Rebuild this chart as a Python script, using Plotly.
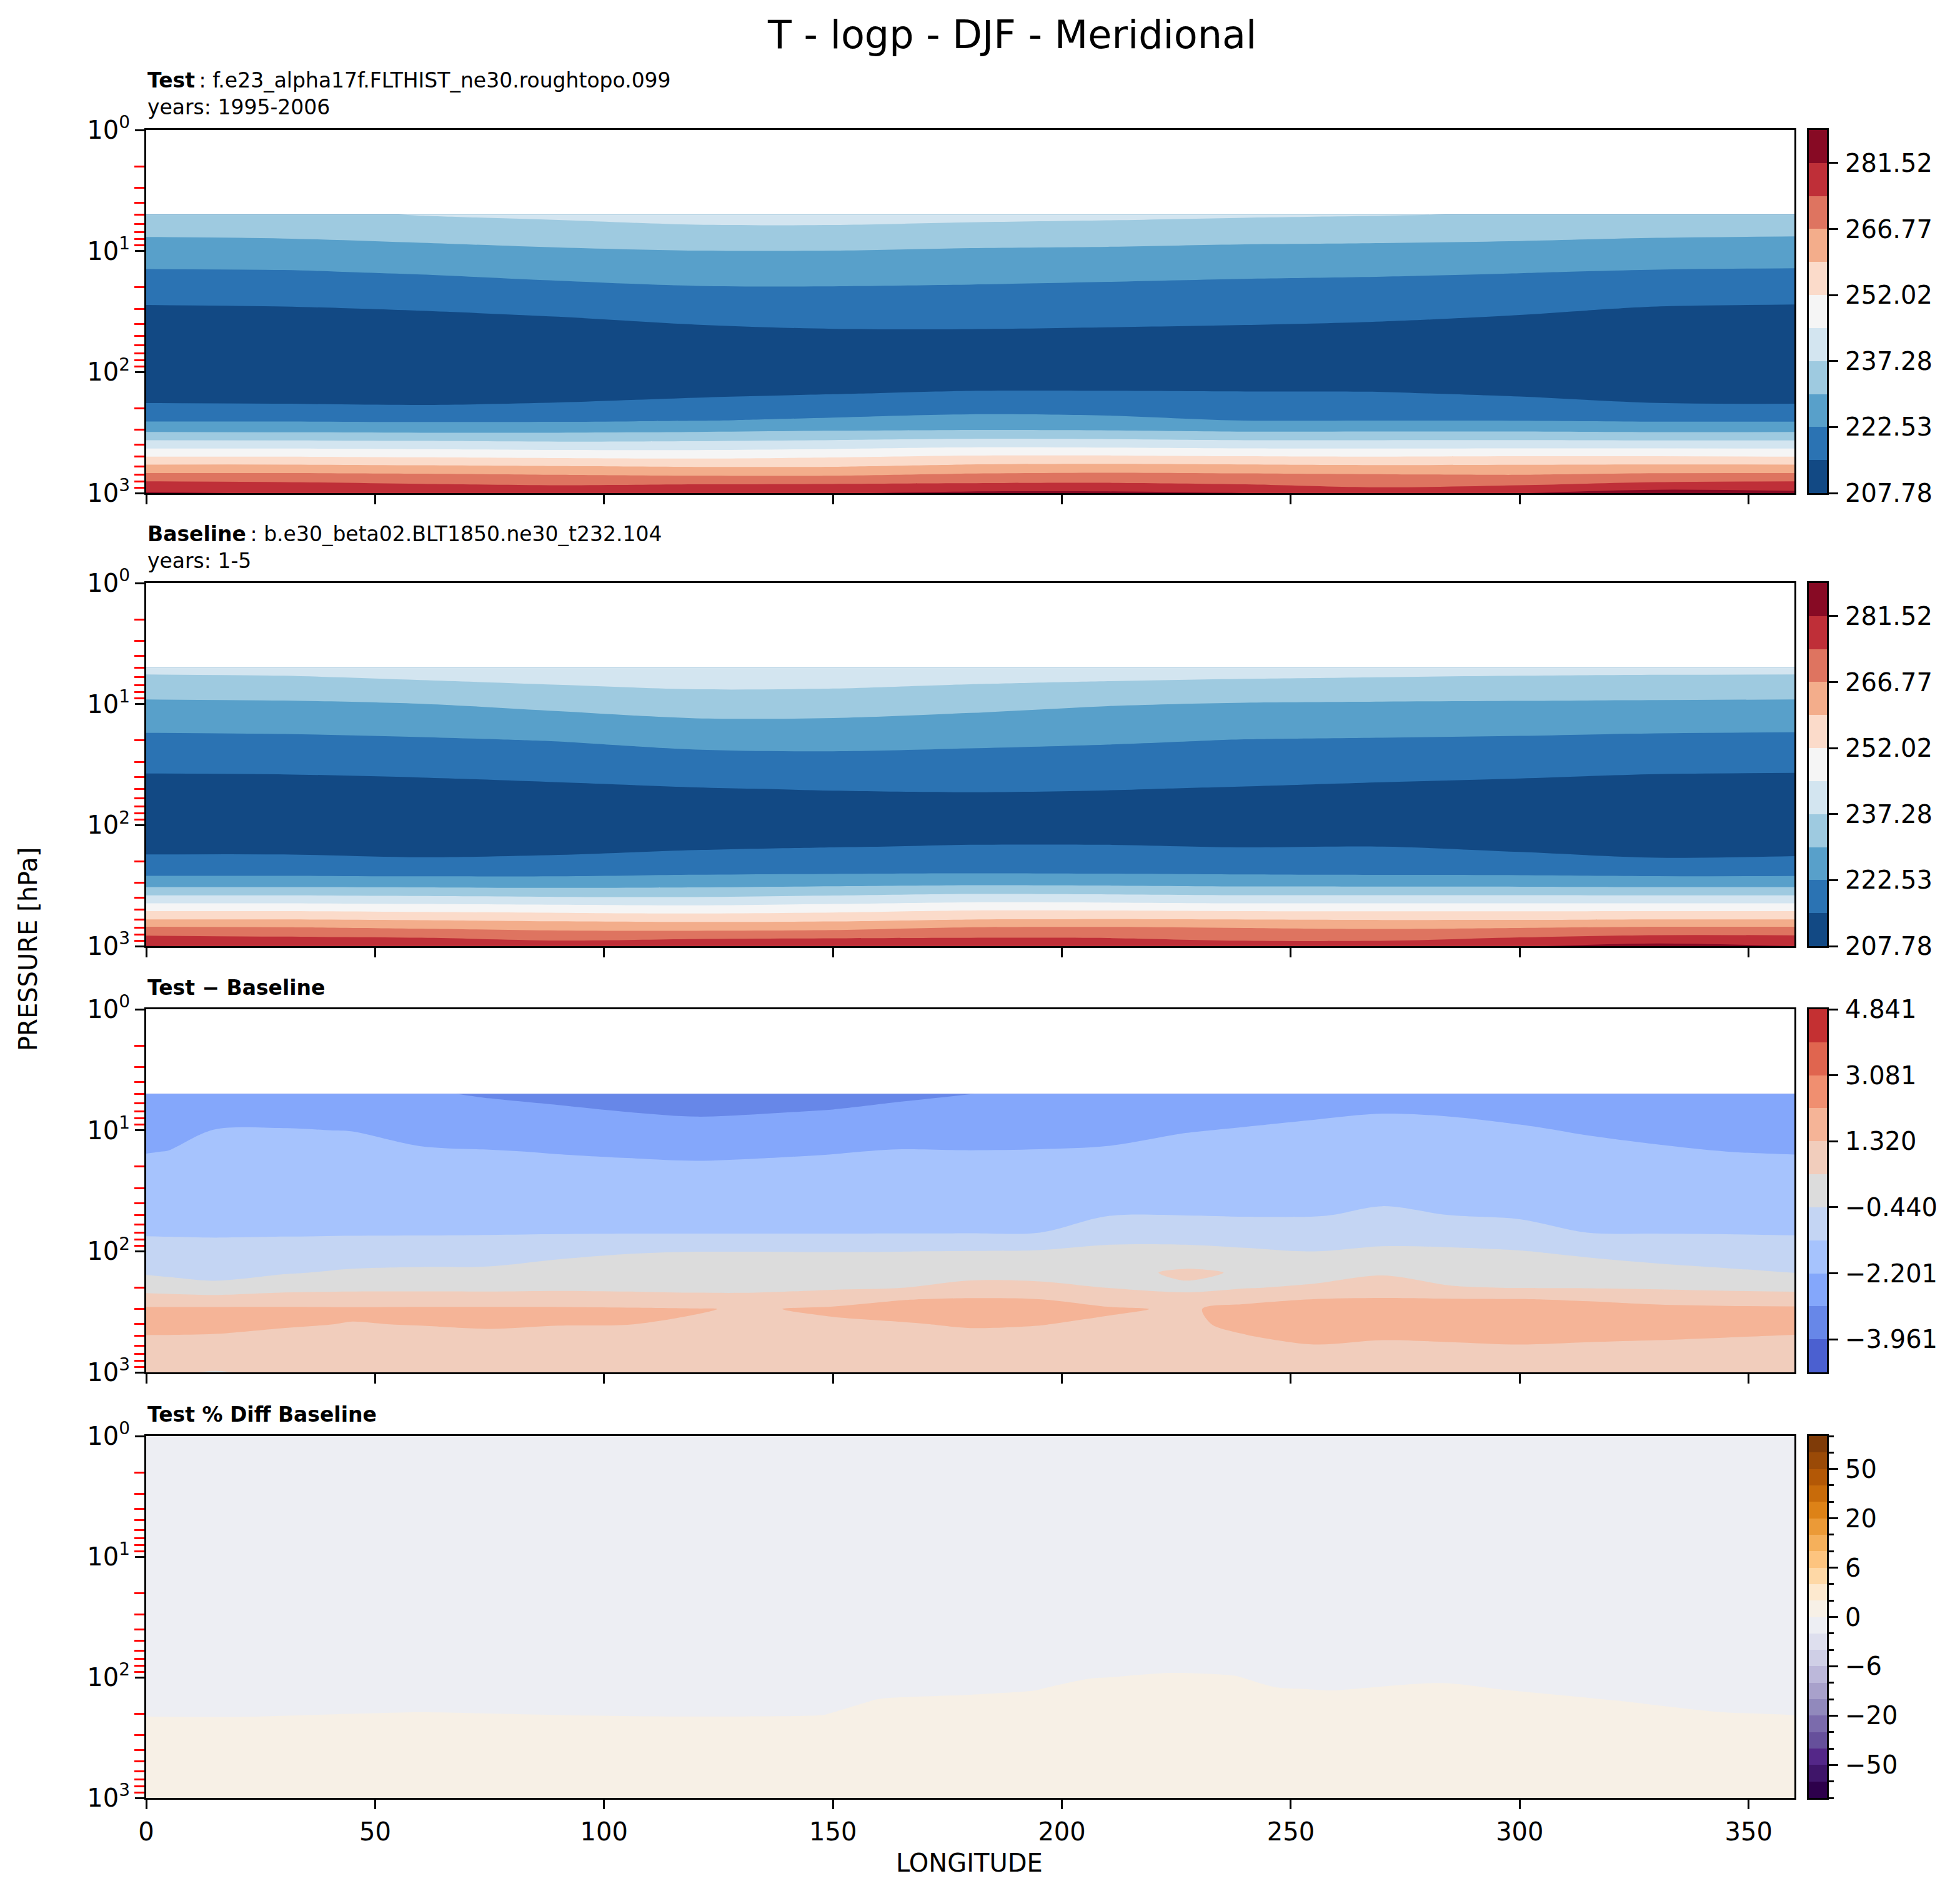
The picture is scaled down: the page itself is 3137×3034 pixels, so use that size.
import numpy as np
import plotly.graph_objects as go

FONT = "DejaVu Sans"
PAGE_W, PAGE_H = 3137, 3034
BODY = 8                                   # default body margin of the page
W, H = PAGE_W - 2 * BODY, PAGE_H - 2 * BODY

# ---------------- data ----------------
lon_T = [0, 30, 60, 90, 120, 150, 180, 210, 240, 270, 300, 330, 360]
plev_T = [5, 7, 10, 15, 20, 30, 50, 70, 100, 150, 200, 250, 300, 400, 500, 600, 700, 800, 900, 1000]

# one list per longitude (top -> bottom), temperature in K
test_T = [
    [235.1, 231.0, 226.6, 221.8, 218.7, 214.4, 210.0, 207.5, 206.5, 211.5, 217.2, 221.7, 228.0, 241.3, 252.0, 260.9, 267.8, 274.2, 278.3, 282.3],
    [235.6, 231.4, 226.9, 222.0, 219.0, 214.7, 210.2, 207.6, 206.4, 211.1, 217.0, 221.7, 227.7, 241.3, 252.0, 260.9, 267.8, 273.7, 277.6, 281.0],
    [237.6, 232.6, 227.8, 223.0, 219.8, 215.5, 211.0, 208.0, 206.5, 210.4, 216.6, 221.4, 227.3, 240.8, 251.4, 260.3, 267.3, 272.4, 276.8, 280.5],
    [238.8, 233.8, 229.0, 224.3, 221.1, 216.7, 211.5, 208.5, 206.8, 211.9, 217.3, 221.5, 227.5, 240.0, 250.7, 259.6, 266.4, 271.3, 275.8, 280.5],
    [240.2, 235.1, 229.8, 225.3, 222.2, 218.1, 213.1, 210.5, 208.0, 213.8, 218.5, 222.2, 228.2, 240.2, 250.3, 258.8, 265.5, 271.7, 276.7, 280.8],
    [240.4, 235.1, 229.8, 225.4, 222.3, 218.6, 214.0, 211.0, 209.0, 214.9, 219.5, 223.4, 229.1, 241.1, 251.4, 258.9, 265.5, 272.0, 277.0, 281.0],
    [239.6, 234.3, 229.1, 224.8, 222.0, 218.5, 214.1, 211.5, 209.5, 215.9, 220.3, 224.8, 229.7, 242.4, 253.0, 260.8, 267.4, 272.5, 278.0, 283.0],
    [239.0, 233.7, 228.8, 224.3, 221.5, 218.2, 213.8, 211.5, 209.8, 215.9, 220.1, 224.1, 229.4, 242.1, 253.1, 261.4, 268.1, 272.9, 278.1, 283.0],
    [238.2, 233.0, 228.2, 223.7, 221.0, 217.7, 213.5, 211.0, 209.5, 215.7, 219.4, 222.3, 228.3, 241.3, 252.4, 260.9, 267.5, 271.9, 276.5, 281.5],
    [237.6, 232.6, 227.9, 223.3, 220.6, 217.1, 213.0, 210.5, 209.0, 215.6, 219.4, 222.3, 228.4, 241.3, 252.0, 260.4, 266.8, 270.8, 274.3, 279.5],
    [236.9, 232.0, 227.5, 222.7, 219.9, 216.1, 212.0, 209.5, 208.0, 214.2, 218.7, 222.2, 228.4, 241.4, 252.4, 260.6, 266.4, 271.3, 275.8, 281.3],
    [235.7, 231.2, 226.8, 221.9, 218.9, 214.7, 210.2, 207.6, 206.4, 211.6, 217.2, 221.6, 227.8, 241.3, 252.4, 260.9, 267.7, 273.4, 279.4, 284.8],
    [235.1, 230.9, 226.4, 221.6, 218.6, 214.3, 210.0, 207.5, 206.4, 211.1, 217.0, 221.6, 227.9, 241.3, 252.0, 260.9, 267.8, 274.2, 278.9, 283.2],
]

base_T = [
    [239.4, 233.9, 228.6, 224.0, 221.0, 217.2, 212.5, 209.8, 208.0, 212.6, 217.4, 221.2, 226.2, 239.6, 250.7, 259.2, 267.4, 273.2, 277.8, 281.8],
    [239.8, 234.3, 228.9, 224.3, 221.2, 217.4, 212.6, 209.9, 208.0, 212.6, 217.4, 221.2, 226.2, 239.6, 250.7, 259.2, 267.0, 272.6, 276.9, 280.5],
    [241.2, 235.6, 229.8, 225.0, 221.8, 217.9, 213.2, 210.5, 208.2, 211.2, 216.7, 220.9, 226.0, 239.0, 250.0, 258.6, 265.7, 271.6, 276.3, 280.0],
    [242.3, 237.1, 231.7, 226.3, 222.7, 218.8, 214.0, 211.0, 208.8, 212.4, 217.3, 221.1, 225.7, 238.2, 249.3, 257.7, 264.4, 269.7, 274.2, 279.8],
    [242.8, 238.3, 233.5, 228.1, 224.4, 220.0, 214.9, 212.0, 210.0, 214.1, 218.4, 221.8, 226.4, 238.0, 248.5, 257.3, 263.9, 269.8, 275.5, 280.5],
    [242.6, 238.1, 233.3, 228.1, 224.7, 220.4, 215.5, 212.5, 210.5, 214.9, 219.0, 222.2, 227.2, 239.2, 249.8, 257.5, 264.4, 270.7, 276.1, 280.5],
    [241.9, 237.0, 231.9, 227.1, 223.9, 220.2, 215.7, 213.0, 211.0, 215.5, 219.5, 222.5, 227.9, 240.6, 251.4, 259.2, 266.9, 271.6, 276.2, 281.0],
    [241.5, 236.0, 230.3, 226.1, 223.2, 219.7, 215.4, 212.8, 211.0, 215.5, 219.4, 222.3, 227.6, 240.3, 251.3, 259.6, 267.2, 271.5, 276.0, 281.2],
    [240.9, 235.2, 229.5, 225.3, 222.3, 219.1, 214.8, 212.3, 210.5, 214.9, 218.8, 221.9, 226.9, 239.6, 250.7, 259.2, 266.4, 270.4, 273.9, 280.5],
    [240.3, 234.7, 229.2, 224.9, 222.0, 218.5, 214.1, 211.7, 210.0, 215.1, 218.8, 221.7, 226.7, 239.6, 250.7, 258.8, 265.8, 270.2, 273.9, 279.0],
    [239.8, 234.3, 229.0, 224.6, 221.6, 218.0, 213.4, 211.0, 209.0, 213.5, 218.0, 221.5, 226.6, 239.6, 250.7, 258.8, 266.3, 271.8, 276.6, 281.0],
    [239.5, 234.0, 228.8, 224.1, 221.1, 217.3, 212.6, 209.9, 208.0, 210.9, 216.6, 220.9, 226.2, 239.6, 250.7, 259.2, 267.4, 273.5, 279.0, 283.8],
    [239.4, 233.9, 228.6, 223.9, 220.9, 217.1, 212.4, 209.8, 208.0, 211.8, 217.0, 221.1, 226.2, 239.6, 250.7, 259.2, 267.4, 273.5, 277.8, 281.5],
]

lon_diff = [0, 5, 15, 30, 45, 60, 75, 90, 105, 120, 133, 150, 165, 180, 195, 210,
            227, 240, 255, 270, 285, 300, 315, 330, 345, 360]
plev_diff = [5, 7, 10, 15, 20, 30, 50, 70, 100, 150, 200, 250, 300, 400, 500, 600, 700, 850, 1000]

# Test - Baseline (K), one list per longitude (top -> bottom)
diff_T = [
    [-2.70, -2.55, -2.40, -2.22, -2.07, -1.85, -1.57, -1.39, -1.03, -0.53, 0.10, 0.84, 1.45, 1.55, 1.30, 1.10, 1.00, 0.90, 0.85],
    [-2.65, -2.51, -2.36, -2.19, -2.04, -1.83, -1.57, -1.39, -1.08, -0.62, -0.01, 0.84, 1.45, 1.55, 1.30, 1.10, 1.00, 0.90, 0.60],
    [-2.55, -2.37, -2.19, -2.03, -1.91, -1.74, -1.53, -1.39, -1.13, -0.70, -0.22, 0.84, 1.45, 1.52, 1.28, 1.10, 1.00, 0.85, 0.35],
    [-2.54, -2.36, -2.18, -2.02, -1.90, -1.74, -1.53, -1.39, -1.07, -0.51, 0.14, 0.87, 1.45, 1.38, 1.20, 1.10, 1.00, 0.90, 0.70],
    [-2.57, -2.39, -2.21, -2.03, -1.91, -1.74, -1.53, -1.39, -0.99, -0.32, 0.22, 0.89, 1.42, 1.30, 1.15, 1.05, 1.00, 0.90, 0.50],
    [-3.00, -2.72, -2.41, -2.13, -1.99, -1.79, -1.55, -1.39, -0.95, -0.26, 0.23, 0.89, 1.45, 1.34, 1.18, 1.05, 1.00, 0.90, 0.80],
    [-3.16, -2.85, -2.52, -2.17, -2.02, -1.82, -1.56, -1.38, -0.92, -0.24, 0.23, 0.88, 1.45, 1.40, 1.20, 1.05, 1.00, 0.92, 0.85],
    [-3.29, -2.96, -2.62, -2.23, -2.06, -1.84, -1.56, -1.38, -0.67, -0.06, 0.29, 0.85, 1.45, 1.34, 1.18, 1.05, 1.00, 0.95, 0.90],
    [-3.44, -3.09, -2.71, -2.29, -2.08, -1.85, -1.56, -1.37, -0.50, -0.03, 0.28, 0.77, 1.42, 1.33, 1.15, 1.05, 1.00, 0.95, 0.90],
    [-3.56, -3.19, -2.79, -2.34, -2.11, -1.87, -1.56, -1.37, -0.45, -0.02, 0.27, 0.67, 1.36, 1.25, 1.12, 1.05, 1.00, 0.95, 0.90],
    [-3.50, -3.14, -2.75, -2.30, -2.09, -1.86, -1.57, -1.37, -0.45, -0.02, 0.28, 0.66, 1.25, 1.20, 1.10, 1.05, 1.00, 0.95, 0.90],
    [-3.39, -3.04, -2.66, -2.23, -2.06, -1.83, -1.55, -1.37, -0.46, 0.01, 0.33, 0.96, 1.45, 1.20, 1.10, 1.05, 1.00, 0.95, 0.90],
    [-3.23, -2.89, -2.53, -2.16, -2.01, -1.80, -1.54, -1.36, -0.45, 0.07, 0.43, 1.30, 1.55, 1.28, 1.15, 1.05, 1.00, 0.95, 0.90],
    [-3.09, -2.81, -2.51, -2.18, -2.03, -1.81, -1.54, -1.36, -0.42, 0.15, 0.71, 1.40, 1.60, 1.38, 1.20, 1.05, 1.00, 0.95, 0.90],
    [-2.95, -2.71, -2.45, -2.17, -2.01, -1.79, -1.51, -1.33, -0.38, 0.15, 0.65, 1.34, 1.58, 1.34, 1.18, 1.05, 1.00, 0.95, 0.90],
    [-2.85, -2.63, -2.40, -2.13, -1.95, -1.69, -1.36, -0.78, -0.26, 0.14, 0.43, 1.07, 1.40, 1.22, 1.10, 1.05, 1.00, 0.95, 0.90],
    [-2.68, -2.46, -2.23, -2.00, -1.84, -1.62, -1.34, -0.70, -0.30, 0.60, 0.30, 0.66, 1.25, 1.22, 1.12, 1.05, 1.00, 0.95, 0.90],
    [-2.60, -2.38, -2.16, -1.96, -1.82, -1.62, -1.37, -0.89, -0.34, 0.35, 0.40, 1.15, 1.50, 1.45, 1.30, 1.15, 1.00, 0.95, 0.90],
    [-2.50, -2.28, -2.10, -1.91, -1.78, -1.59, -1.36, -0.95, -0.45, 0.10, 0.56, 1.34, 1.60, 1.62, 1.50, 1.30, 1.15, 1.00, 0.90],
    [-2.44, -2.22, -2.05, -1.85, -1.72, -1.53, -1.22, -0.79, -0.31, 0.33, 0.90, 1.38, 1.60, 1.60, 1.40, 1.22, 1.10, 1.00, 0.90],
    [-2.47, -2.25, -2.07, -1.89, -1.76, -1.57, -1.33, -0.85, -0.33, 0.13, 0.49, 1.38, 1.60, 1.62, 1.45, 1.25, 1.10, 1.00, 0.90],
    [-2.56, -2.34, -2.14, -1.95, -1.82, -1.64, -1.41, -1.05, -0.41, 0.07, 0.42, 1.35, 1.60, 1.62, 1.50, 1.30, 1.15, 1.00, 0.90],
    [-2.64, -2.45, -2.25, -2.05, -1.92, -1.73, -1.48, -1.33, -0.62, 0.00, 0.40, 1.26, 1.58, 1.60, 1.45, 1.25, 1.10, 1.00, 0.90],
    [-2.70, -2.53, -2.34, -2.13, -1.99, -1.78, -1.52, -1.35, -0.82, -0.15, 0.33, 1.12, 1.50, 1.55, 1.40, 1.22, 1.10, 1.00, 0.90],
    [-2.73, -2.57, -2.40, -2.20, -2.05, -1.83, -1.55, -1.36, -0.92, -0.31, 0.24, 1.00, 1.48, 1.52, 1.35, 1.18, 1.05, 0.95, 0.90],
    [-2.71, -2.56, -2.40, -2.23, -2.08, -1.85, -1.57, -1.38, -0.98, -0.45, 0.19, 0.94, 1.47, 1.52, 1.30, 1.12, 1.02, 0.92, 0.85],
]

lon_pct = [0, 20, 60, 90, 120, 148, 160, 180, 194, 206, 224, 238, 247, 259, 283, 298, 321, 344, 360]
plev_pct = [1, 50, 80, 100, 125, 160, 200, 250, 400, 1000]

# Test % Diff Baseline, one list per longitude (top -> bottom)
pct_T = [
    [-1.86, -0.50, -0.33, -0.26, -0.18, -0.09, -0.02, 0.06, 0.23, 0.54],
    [-1.86, -0.50, -0.34, -0.26, -0.19, -0.10, -0.02, 0.05, 0.22, 0.54],
    [-1.84, -0.48, -0.32, -0.24, -0.16, -0.08, 0.01, 0.08, 0.24, 0.56],
    [-1.85, -0.49, -0.32, -0.25, -0.17, -0.08, -0.01, 0.07, 0.24, 0.55],
    [-1.86, -0.50, -0.34, -0.26, -0.18, -0.10, -0.02, 0.06, 0.22, 0.54],
    [-1.84, -0.48, -0.32, -0.24, -0.17, -0.08, -0.01, 0.08, 0.24, 0.56],
    [-1.74, -0.39, -0.22, -0.14, -0.07, 0.02, 0.10, 0.17, 0.34, 0.66],
    [-1.72, -0.36, -0.19, -0.12, -0.04, 0.05, 0.13, 0.20, 0.37, 0.68],
    [-1.69, -0.33, -0.17, -0.09, -0.01, 0.07, 0.15, 0.23, 0.39, 0.71],
    [-1.61, -0.25, -0.09, -0.01, 0.07, 0.16, 0.23, 0.31, 0.47, 0.79],
    [-1.57, -0.21, -0.05, 0.03, 0.11, 0.20, 0.27, 0.35, 0.51, 0.83],
    [-1.60, -0.24, -0.07, 0.01, 0.08, 0.17, 0.24, 0.32, 0.49, 0.80],
    [-1.67, -0.31, -0.15, -0.07, 0.01, 0.09, 0.17, 0.25, 0.41, 0.73],
    [-1.68, -0.32, -0.16, -0.08, -0.01, 0.08, 0.16, 0.24, 0.40, 0.72],
    [-1.64, -0.28, -0.12, -0.04, 0.04, 0.12, 0.20, 0.28, 0.44, 0.76],
    [-1.68, -0.32, -0.16, -0.08, -0.01, 0.08, 0.16, 0.24, 0.40, 0.72],
    [-1.76, -0.40, -0.24, -0.16, -0.08, 0.01, 0.08, 0.16, 0.32, 0.64],
    [-1.84, -0.48, -0.31, -0.24, -0.16, -0.07, 0.01, 0.08, 0.25, 0.56],
    [-1.85, -0.49, -0.33, -0.25, -0.17, -0.09, -0.01, 0.07, 0.23, 0.55],
]

# contour levels (colorbar edges) and tick labels
t_levels = [207.78, 215.15, 222.53, 229.90, 237.28, 244.65, 252.02, 259.40, 266.77, 274.15, 281.52, 288.90]
t_ticks = [207.78, 222.53, 237.28, 252.02, 266.77, 281.52]
t_ticktext = ["207.78", "222.53", "237.28", "252.02", "266.77", "281.52"]

diff_levels = [-4.841, -3.961, -3.081, -2.201, -1.320, -0.440, 0.440, 1.320, 2.201, 3.081, 3.961, 4.841]
diff_ticks = [-3.961, -2.201, -0.440, 1.320, 3.081, 4.841]
diff_ticktext = ["\u22123.961", "\u22122.201", "\u22120.440", "1.320", "3.081", "4.841"]

pct_levels = [-100, -75, -50, -40, -30, -20, -15, -10, -6, -4, -2, 0, 2, 4, 6, 10, 15, 20, 30, 40, 50, 75, 100]
pct_ticks = [-50, -20, -6, 0, 6, 20, 50]
pct_ticktext = ["\u221250", "\u221220", "\u22126", "0", "6", "20", "50"]

# colours (bottom band -> top band)
rdbu_colors = ["#124984", "#2b73b3", "#58a0ca", "#9ecae0", "#d3e5f0", "#f5f5f5",
               "#fbdbca", "#f3ad8b", "#de7460", "#bf2f38", "#870a24"]
cool_colors = ["#4b60d0", "#6787e8", "#84a7fb", "#a6c3fd", "#c4d5f3", "#dcdcdc",
               "#f1cdbc", "#f5b497", "#f08f70", "#e0654f", "#c43032"]
puor_colors = ["#2d004b", "#3f1569", "#542788", "#66509b", "#7b6bac", "#9189bc",
               "#a8a1cb", "#bcb8da", "#cfcfe6", "#dedfee", "#edeef3", "#f7f0e6",
               "#fde9cf", "#fed8a6", "#fdc47f", "#f5b05b", "#eb9a37", "#dd8217",
               "#c86b0a", "#b35806", "#9a4a07", "#7f3b08"]

# ---------------- layout geometry (pixels of the 3137 x 3034 page) ----------------
def fx(px):
    return (px - BODY) / W


def fy(py):
    return 1 - (py - BODY) / H


PLOT_L, PLOT_R = 234, 2872
CB_L, CB_R = 2895, 2924
panel_px = [(208, 789), (933, 1514), (1615, 2196), (2298, 2877)]

fig = go.Figure()


def step_scale(colors):
    n = len(colors)
    return [[i / (n - 1), c] for i, c in enumerate(colors)]


def add_contour(lon, plev, cols, levels, colors, k):
    z = np.array(cols, dtype=float).T
    nb = len(levels) - 1
    size = (levels[-1] - levels[0]) / nb
    fig.add_trace(go.Contour(
        x=lon, y=plev, z=z,
        colorscale=step_scale(colors),
        autocontour=False,
        contours=dict(start=levels[0] + size, end=levels[0] + (nb - 1) * size,
                      size=size, coloring="fill", showlines=False),
        line=dict(width=0, smoothing=0.9),
        showscale=False, hoverinfo="skip",
        xaxis="x" + ("" if k == 1 else str(k)),
        yaxis="y" + ("" if k == 1 else str(k)),
    ))


add_contour(lon_T, plev_T, test_T, t_levels, rdbu_colors, 1)
add_contour(lon_T, plev_T, base_T, t_levels, rdbu_colors, 2)
add_contour(lon_diff, plev_diff, diff_T, diff_levels, cool_colors, 3)

# percent-difference panel drawn on the colorbar's uniform bin-index scale
pct_idx = np.interp(np.array(pct_T, dtype=float), pct_levels, np.arange(len(pct_levels)))
add_contour(lon_pct, plev_pct, pct_idx.tolist(), list(range(len(pct_levels))), puor_colors, 4)


def add_cbar(edges, colors, k):
    n = len(colors)
    fig.add_trace(go.Heatmap(
        x=[0, 1], y=edges, z=[[i] for i in range(n)],
        colorscale=step_scale(colors), zmin=0, zmax=n - 1,
        showscale=False, hoverinfo="skip",
        xaxis="x" + str(k), yaxis="y" + str(k),
    ))


add_cbar(t_levels, rdbu_colors, 5)
add_cbar(t_levels, rdbu_colors, 6)
add_cbar(diff_levels, cool_colors, 7)
add_cbar(list(range(len(pct_levels))), puor_colors, 8)

tickfont = dict(family=FONT, size=40, color="black")
minor_vals = [m * 10 ** d for d in range(3) for m in range(2, 10)]

layout = {}
for i, (top, bot) in enumerate(panel_px):
    k = i + 1
    xs = "" if k == 1 else str(k)
    layout["xaxis" + xs] = dict(
        domain=[fx(PLOT_L), fx(PLOT_R)], range=[0, 360], anchor="y" + xs,
        showline=True, linewidth=3, linecolor="black", mirror=True,
        ticks="outside", ticklen=15, tickwidth=3, tickcolor="black",
        tickmode="array", tickvals=[0, 50, 100, 150, 200, 250, 300, 350],
        showticklabels=(k == 4), tickfont=tickfont, ticklabelstandoff=2,
        showgrid=False, zeroline=False, fixedrange=True, automargin=False,
    )
    layout["yaxis" + xs] = dict(
        domain=[fy(bot), fy(top)], type="log", range=[3, 0], anchor="x" + xs,
        showline=True, linewidth=3, linecolor="black", mirror=True,
        ticks="outside", ticklen=15, tickwidth=3, tickcolor="black",
        tickmode="array", tickvals=[1, 10, 100, 1000],
        ticktext=["10<sup>0</sup>", "10<sup>1</sup>", "10<sup>2</sup>", "10<sup>3</sup>"],
        tickfont=tickfont, showgrid=False, zeroline=False, fixedrange=True,
        automargin=False,
        minor=dict(tickmode="array", tickvals=minor_vals, ticks="outside",
                   ticklen=16, tickwidth=3, tickcolor="red", showgrid=False),
    )

cb_specs = [
    (t_levels, t_ticks, t_ticktext, None),
    (t_levels, t_ticks, t_ticktext, None),
    (diff_levels, diff_ticks, diff_ticktext, None),
    (list(range(len(pct_levels))),
     [pct_levels.index(v) for v in pct_ticks], pct_ticktext,
     list(range(len(pct_levels)))),
]
for i, ((top, bot), (edges, tv, tt, minor)) in enumerate(zip(panel_px, cb_specs)):
    k = i + 5
    layout["xaxis" + str(k)] = dict(
        domain=[fx(CB_L), fx(CB_R)], range=[0, 1], anchor="y" + str(k),
        showline=True, linewidth=3, linecolor="black", mirror=True,
        ticks="", showticklabels=False, showgrid=False, zeroline=False,
        fixedrange=True, automargin=False,
    )
    yd = dict(
        domain=[fy(bot), fy(top)], range=[edges[0], edges[-1]], anchor="x" + str(k),
        side="right", showline=True, linewidth=3, linecolor="black", mirror=True,
        ticks="outside", ticklen=15, tickwidth=3, tickcolor="black",
        tickmode="array", tickvals=tv, ticktext=tt, tickfont=tickfont,
        ticklabelstandoff=3,
        showgrid=False, zeroline=False, fixedrange=True, automargin=False,
    )
    if minor is not None:
        yd["minor"] = dict(tickmode="array", tickvals=minor, ticks="outside",
                           ticklen=8, tickwidth=3, tickcolor="black", showgrid=False)
    layout["yaxis" + str(k)] = yd

annotations = [
    dict(text="T - logp - DJF - Meridional", x=fx(1619), y=fy(56),
         xanchor="center", yanchor="middle", font=dict(family=FONT, size=62, color="black")),
    dict(text="<b>Test</b>\u2009: f.e23_alpha17f.FLTHIST_ne30.roughtopo.099<br>years: 1995-2006",
         x=fx(PLOT_L), y=fy(150), xanchor="left", yanchor="middle", align="left",
         font=dict(family=FONT, size=33, color="black")),
    dict(text="<b>Baseline</b>\u2009: b.e30_beta02.BLT1850.ne30_t232.104<br>years: 1-5",
         x=fx(PLOT_L), y=fy(876), xanchor="left", yanchor="middle", align="left",
         font=dict(family=FONT, size=33, color="black")),
    dict(text="<b>Test \u2212 Baseline</b>", x=fx(PLOT_L), y=fy(1580),
         xanchor="left", yanchor="middle", align="left",
         font=dict(family=FONT, size=33, color="black")),
    dict(text="<b>Test % Diff Baseline</b>", x=fx(PLOT_L), y=fy(2263),
         xanchor="left", yanchor="middle", align="left",
         font=dict(family=FONT, size=33, color="black")),
    dict(text="PRESSURE [hPa]", x=fx(45), y=fy(1519), textangle=-90,
         xanchor="center", yanchor="middle", font=dict(family=FONT, size=40, color="black")),
    dict(text="LONGITUDE", x=fx(1551), y=fy(2981),
         xanchor="center", yanchor="middle", font=dict(family=FONT, size=40, color="black")),
]
for a in annotations:
    a.update(xref="paper", yref="paper", showarrow=False)

fig.update_layout(
    template="none",
    width=W, height=H, autosize=False,
    margin=dict(l=0, r=0, t=0, b=0, pad=0, autoexpand=False),
    paper_bgcolor="white", plot_bgcolor="white",
    font=dict(family=FONT, color="black"),
    showlegend=False,
    annotations=annotations,
    **layout,
)

fig.write_html("out.html", config={"displayModeBar": False, "staticPlot": True})
